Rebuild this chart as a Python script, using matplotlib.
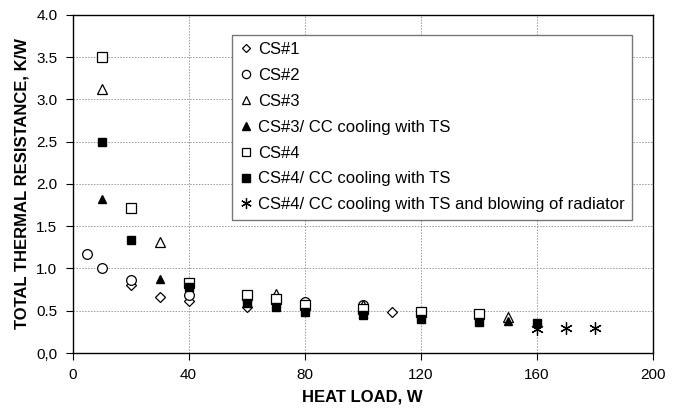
import matplotlib.pyplot as plt

plt.rcParams['font.family'] = ['Liberation Sans', 'DejaVu Sans']

# CS#1 (open diamond)
cs1_x = [20, 30, 40, 60, 110]
cs1_y = [0.81, 0.66, 0.61, 0.55, 0.48]
# CS#2 (open circle)
cs2_x = [5, 10, 20, 40, 80, 100]
cs2_y = [1.17, 1.01, 0.86, 0.69, 0.60, 0.57]
# CS#3 (open triangle)
cs3_x = [10, 30, 70, 100, 150]
cs3_y = [3.12, 1.31, 0.70, 0.57, 0.43]
# CS#3 / CC cooling with TS (filled triangle)
cs3cc_x = [10, 30, 150]
cs3cc_y = [1.82, 0.87, 0.38]
# CS#4 (open square)
cs4_x = [10, 20, 40, 60, 70, 80, 100, 120, 140]
cs4_y = [3.50, 1.71, 0.83, 0.69, 0.64, 0.57, 0.52, 0.48, 0.46]
# CS#4 / CC cooling with TS (filled square)
cs4cc_x = [10, 20, 40, 60, 70, 80, 100, 120, 140, 160]
cs4cc_y = [2.50, 1.34, 0.78, 0.59, 0.55, 0.49, 0.45, 0.40, 0.37, 0.35]
# CS#4 / CC cooling with TS and blowing of radiator (asterisk)
cs4bl_x = [160, 170, 180]
cs4bl_y = [0.29, 0.30, 0.30]

labels = ['CS#1', 'CS#2', 'CS#3', 'CS#3/ CC cooling with TS', 'CS#4',
          'CS#4/ CC cooling with TS',
          'CS#4/ CC cooling with TS and blowing of radiator']

fig = plt.figure(figsize=(6.78, 4.11), dpi=100)
ax = fig.add_axes([0.107, 0.141, 0.856, 0.823])

ax.plot(cs1_x, cs1_y, 'D', ms=5, mfc='white', mec='black', mew=0.9, label=labels[0], zorder=3)
ax.plot(cs2_x, cs2_y, 'o', ms=7, mfc='white', mec='black', mew=0.9, label=labels[1], zorder=3)
ax.plot(cs3_x, cs3_y, '^', ms=7, mfc='white', mec='black', mew=0.9, label=labels[2], zorder=3)
ax.plot(cs3cc_x, cs3cc_y, '^', ms=6, mfc='black', mec='black', label=labels[3], zorder=4)
ax.plot(cs4_x, cs4_y, 's', ms=7, mfc='white', mec='black', mew=0.9, label=labels[4], zorder=3)
ax.plot(cs4cc_x, cs4cc_y, 's', ms=6, mfc='black', mec='black', label=labels[5], zorder=4)
ax.plot(cs4bl_x, cs4bl_y, marker=(6, 2, 0), ls='none', ms=9, mec='black', mew=0.9, label=labels[6], zorder=3)

ax.set_xlim(0, 200)
ax.set_ylim(0, 4.0)
ax.set_xticks([0, 40, 80, 120, 160, 200])
ax.set_yticks([0, 0.5, 1.0, 1.5, 2.0, 2.5, 3.0, 3.5, 4.0])
ax.set_yticklabels(['0,0', '0.5', '1.0', '1.5', '2.0', '2.5', '3.0', '3.5', '4.0'])
ax.tick_params(direction='out', length=5, width=0.8, labelsize=11, colors='black', pad=6)
ax.grid(True, ls=(0, (1.5, 1.5)), color='#999999', lw=0.7)
for s in ax.spines.values():
    s.set_linewidth(1.0)

ax.set_xlabel('HEAT LOAD, W', fontsize=12, fontweight='bold', labelpad=5)
ax.set_ylabel('TOTAL THERMAL RESISTANCE, K/W', fontsize=12, fontweight='bold', labelpad=5)

leg = ax.legend(loc='upper left', bbox_to_anchor=(0.275, 0.941), fontsize=12,
                frameon=True, fancybox=False, edgecolor='#777777', framealpha=1,
                handlelength=0.8, handletextpad=0.3, labelspacing=0.65,
                borderpad=0.45, borderaxespad=0, markerscale=0.85)
leg.get_frame().set_linewidth(1.0)

plt.savefig('out.png', dpi=100)
